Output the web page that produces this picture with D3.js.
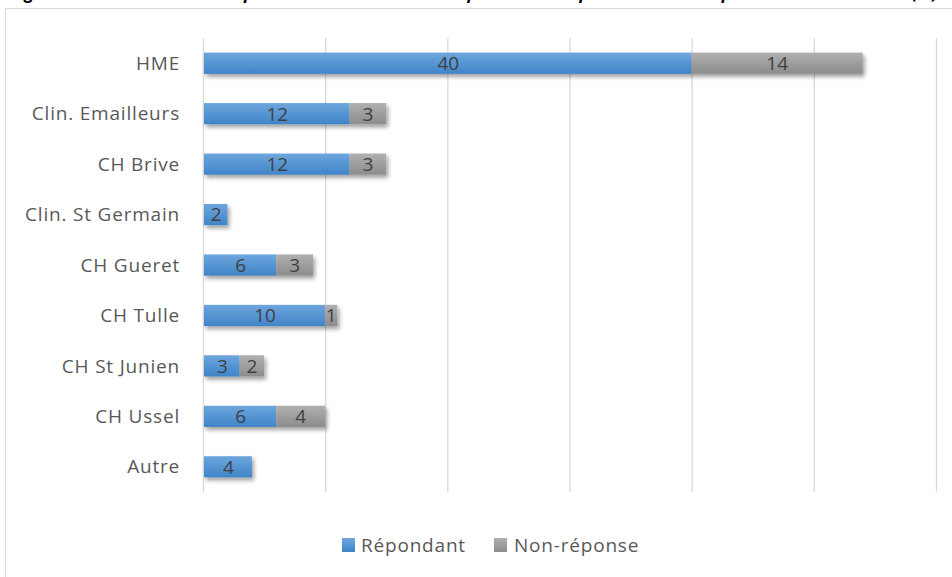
<!DOCTYPE html>
<html>
<head>
<meta charset="utf-8">
<script src="https://cdn.jsdelivr.net/npm/d3@7"></script>
<style>
  html, body { margin: 0; padding: 0; background: #fff; }
  svg { display: block; }
</style>
</head>
<body>
<svg id="chart" width="952" height="577"></svg>
<script>
const titleText = "Figure 6 : Nombre de répondants et de non-réponses au questionnaire par établissement (n)";
const categories = ["HME", "Clin. Emailleurs", "CH Brive", "Clin. St Germain", "CH Gueret", "CH Tulle", "CH St Junien", "CH Ussel", "Autre"];
const repondant = [40, 12, 12, 2, 6, 10, 3, 6, 4];
const nonReponse = [14, 3, 3, 0, 3, 1, 2, 4, 0];
const seriesNames = ["Répondant", "Non-réponse"];
const xTicks = [0, 10, 20, 30, 40, 50, 60];

const svg = d3.select("#chart");
const W = 952, H = 577;
const font = "'Open Sans', sans-serif";

const defs = svg.append("defs");
const gBlue = defs.append("linearGradient").attr("id", "gBlue").attr("x1", 0).attr("y1", 0).attr("x2", 0).attr("y2", 1);
gBlue.append("stop").attr("offset", "0%").attr("stop-color", "#6ea6dd");
gBlue.append("stop").attr("offset", "100%").attr("stop-color", "#3f84c8");
const gGray = defs.append("linearGradient").attr("id", "gGray").attr("x1", 0).attr("y1", 0).attr("x2", 0).attr("y2", 1);
gGray.append("stop").attr("offset", "0%").attr("stop-color", "#b0b0b0");
gGray.append("stop").attr("offset", "100%").attr("stop-color", "#8c8c8c");
const shadow = defs.append("filter").attr("id", "shadow").attr("x", "-10%").attr("y", "-40%").attr("width", "130%").attr("height", "200%");
shadow.append("feDropShadow").attr("dx", 2).attr("dy", 3).attr("stdDeviation", 2.2).attr("flood-color", "#000").attr("flood-opacity", 0.38);

// title (cut off at top, as in the reference)
svg.append("text").attr("x", 6).attr("y", -1.5)
  .attr("font-family", font).attr("font-size", 17).attr("font-weight", "bold").attr("font-style", "italic")
  .attr("textLength", 932).attr("lengthAdjust", "spacing")
  .attr("fill", "#000").text(titleText);

// chart border
svg.append("rect").attr("x", 5.5).attr("y", 8.5).attr("width", W + 10).attr("height", H + 10)
  .attr("fill", "#fff").attr("stroke", "#d9d9d9").attr("stroke-width", 1);

const x = d3.scaleLinear().domain([0, 60]).range([203, 936]);
const y = d3.scaleBand().domain(categories).range([38, 492]).paddingInner(0.58).paddingOuter(0.29);

// gridlines
svg.append("g").selectAll("line").data(xTicks).join("line")
  .attr("x1", d => x(d) + 0.5).attr("x2", d => x(d) + 0.5)
  .attr("y1", 38).attr("y2", 492)
  .attr("stroke", "#d9d9d9").attr("stroke-width", 1.3);

// category labels
svg.append("g").selectAll("text").data(categories).join("text")
  .attr("x", 180).attr("y", d => y(d) + y.bandwidth() / 2)
  .attr("dy", "0.35em").attr("text-anchor", "end")
  .attr("font-family", font).attr("font-size", 19).attr("letter-spacing", 0.8)
  .attr("fill", "#595959").text(d => d);

const data = categories.map((c, i) => ({ cat: c, r: repondant[i], n: nonReponse[i] }));

const bars = svg.append("g");
data.forEach(d => {
  const g = bars.append("g").attr("filter", "url(#shadow)");
  g.append("rect").attr("x", x(0) + 1).attr("y", y(d.cat)).attr("width", x(d.r) - x(0) - 1).attr("height", y.bandwidth()).attr("fill", "url(#gBlue)");
  if (d.n > 0) {
    g.append("rect").attr("x", x(d.r)).attr("y", y(d.cat)).attr("width", x(d.r + d.n) - x(d.r)).attr("height", y.bandwidth()).attr("fill", "url(#gGray)");
  }
});

// value labels
const lab = svg.append("g").attr("font-family", font).attr("font-size", 19).attr("fill", "#404040").attr("text-anchor", "middle");
data.forEach(d => {
  lab.append("text").attr("x", (x(0) + x(d.r)) / 2 + 1).attr("y", y(d.cat) + y.bandwidth() / 2).attr("dy", "0.36em").text(d.r);
  if (d.n > 0) {
    lab.append("text").attr("x", (x(d.r) + x(d.r + d.n)) / 2).attr("y", y(d.cat) + y.bandwidth() / 2).attr("dy", "0.36em").text(d.n);
  }
});

// legend
const legend = svg.append("g");
const legItems = [
  { name: seriesNames[0], fill: "url(#gBlue)", sx: 342, tx: 361 },
  { name: seriesNames[1], fill: "url(#gGray)", sx: 494, tx: 514 }
];
legItems.forEach(l => {
  legend.append("rect").attr("x", l.sx).attr("y", 538).attr("width", 13).attr("height", 14).attr("fill", l.fill);
  legend.append("text").attr("x", l.tx).attr("y", 552)
    .attr("font-family", font).attr("font-size", 19).attr("letter-spacing", 0.8)
    .attr("fill", "#595959").text(l.name);
});
</script>
</body>
</html>
